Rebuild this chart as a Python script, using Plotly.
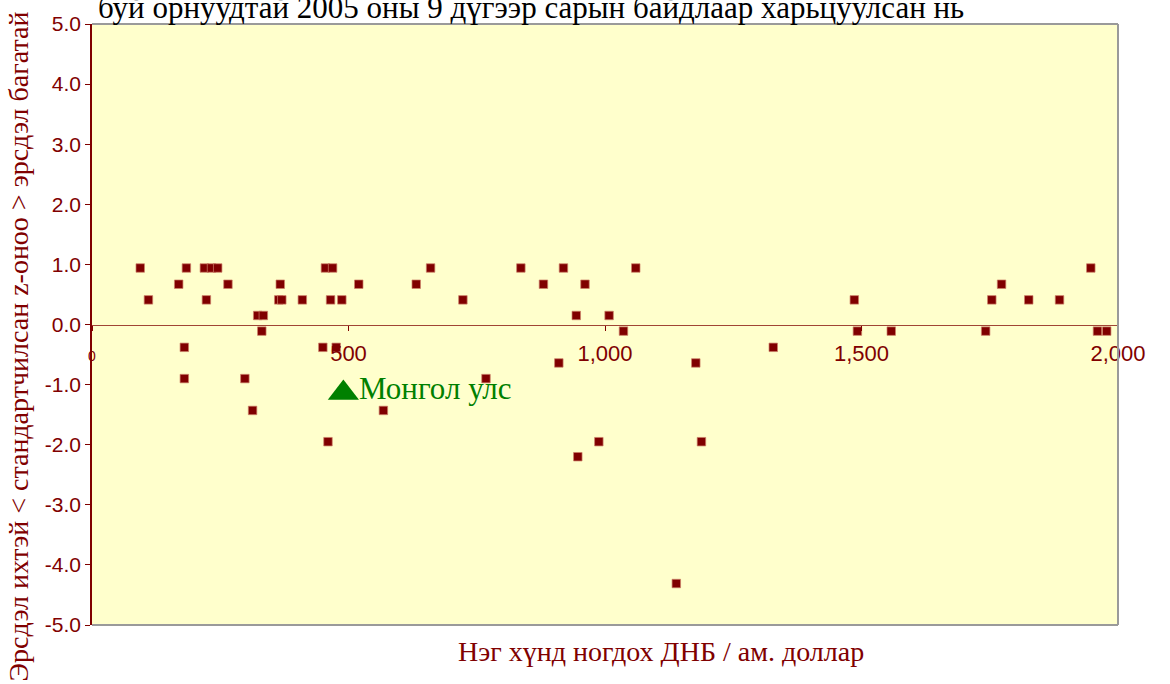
import plotly.graph_objects as go

# GNP per capita (USD) and standardized z-score of each country
gnp_per_capita = [
    94, 184, 219, 233, 245, 455, 469, 660, 836, 919, 1060, 1947,
    169, 265, 367, 520, 632, 880, 961, 1773,
    110, 223, 364, 370, 410, 465, 487, 723, 1486, 1754, 1826, 1886,
    323, 334, 944, 1008,
    331, 1036, 1492, 1558, 1742, 1960, 1978,
    180, 450, 476, 1328,
    910, 1177,
    180, 298, 768,
    313, 568,
    460, 988, 1188,
    947,
    1139,
]
z_score = [
    0.94, 0.94, 0.94, 0.94, 0.94, 0.94, 0.94, 0.94, 0.94, 0.94, 0.94, 0.94,
    0.67, 0.67, 0.67, 0.67, 0.67, 0.67, 0.67, 0.67,
    0.41, 0.41, 0.41, 0.41, 0.41, 0.41, 0.41, 0.41, 0.41, 0.41, 0.41, 0.41,
    0.15, 0.15, 0.15, 0.15,
    -0.11, -0.11, -0.11, -0.11, -0.11, -0.11, -0.11,
    -0.38, -0.38, -0.38, -0.38,
    -0.64, -0.64,
    -0.90, -0.90, -0.90,
    -1.43, -1.43,
    -1.95, -1.95, -1.95,
    -2.20,
    -4.31,
]

mongolia_name = "Монгол улс"
mongolia_gnp = [490]
mongolia_z = [-1.14]

x_tick_vals = [0, 500, 1000, 1500, 2000]
x_tick_text = ["<span style='font-size:14px'>0</span>", "500", "1,000", "1,500", "2,000"]
y_tick_vals = [5, 4, 3, 2, 1, 0, -1, -2, -3, -4, -5]
y_tick_text = ["5.0", "4.0", "3.0", "2.0", "1.0", "0.0", "-1.0", "-2.0", "-3.0", "-4.0", "-5.0"]

title_text = "буй орнуудтай 2005 оны 9 дүгээр сарын байдлаар харьцуулсан нь"
x_title = "Нэг хүнд ногдох ДНБ / ам. доллар"
y_title = "Эрсдэл ихтэй < стандартчилсан z-оноо > эрсдэл багатай"

DARK_RED = "#800000"
SERIF = "Liberation Serif, Times New Roman, serif"
SANS = "Liberation Sans, Arial, sans-serif"

fig = go.Figure()
fig.add_trace(go.Scatter(
    x=gnp_per_capita, y=z_score, mode="markers",
    marker=dict(symbol="square", size=8.5, color=DARK_RED,
                line=dict(width=1, color="rgba(205,130,105,0.7)")),
    showlegend=False, hoverinfo="x+y",
))
fig.add_trace(go.Scatter(
    x=mongolia_gnp, y=mongolia_z, mode="markers",
    marker=dict(symbol="triangle-up", size=27, color="#008000"),
    showlegend=False, name=mongolia_name,
))

fig.add_annotation(x=517, y=-1.06, xref="x", yref="y", text=mongolia_name,
                   showarrow=False, xanchor="left", yanchor="middle",
                   font=dict(family=SERIF, size=31, color="#008000"))

# title (upper part clipped off in the original)
fig.add_annotation(x=0.004, y=1.0271, xref="paper", yref="paper", text=title_text,
                   showarrow=False, xanchor="left", yanchor="middle",
                   font=dict(family=SERIF, size=31, color="#000000"))
fig.add_annotation(x=0.5546, y=-0.0447, xref="paper", yref="paper", text=x_title,
                   showarrow=False, xanchor="center", yanchor="middle",
                   font=dict(family=SERIF, size=28, color=DARK_RED))
fig.add_annotation(x=-0.0721, y=0.4636, xref="paper", yref="paper", text=y_title,
                   showarrow=False, xanchor="center", yanchor="middle", textangle=-90,
                   font=dict(family=SERIF, size=28, color=DARK_RED))

# gray frame on top, right and bottom
for (x0, y0, x1, y1) in [(0, 1, 1, 1), (1, 0, 1, 1), (0, 0, 1, 0)]:
    fig.add_shape(type="line", xref="x domain", yref="y domain",
                  x0=x0, y0=y0, x1=x1, y1=y1,
                  line=dict(color="#9a9a9a", width=2), layer="above")

fig.update_layout(
    width=1170, height=684,
    margin=dict(l=92, r=52, t=21, b=59),
    paper_bgcolor="white", plot_bgcolor="#FFFFCC",
    xaxis=dict(range=[0, 2000], anchor="free", position=0.5,
               showgrid=False, zeroline=False,
               showline=True, linecolor="#A04535", linewidth=1.3,
               ticks="outside", ticklen=5, tickcolor=DARK_RED,
               tickvals=x_tick_vals, ticktext=x_tick_text,
               ticklabelstandoff=4,
               tickfont=dict(family=SANS, size=22, color=DARK_RED)),
    yaxis=dict(range=[-5, 5], showgrid=False, zeroline=False,
               showline=True, linecolor=DARK_RED, linewidth=1.5,
               ticks="outside", ticklen=5, tickcolor=DARK_RED,
               tickvals=y_tick_vals, ticktext=y_tick_text,
               tickfont=dict(family=SANS, size=21, color=DARK_RED)),
)

fig.write_html("out.html", config={"displayModeBar": False},
               post_script="document.body.style.margin='0';")
